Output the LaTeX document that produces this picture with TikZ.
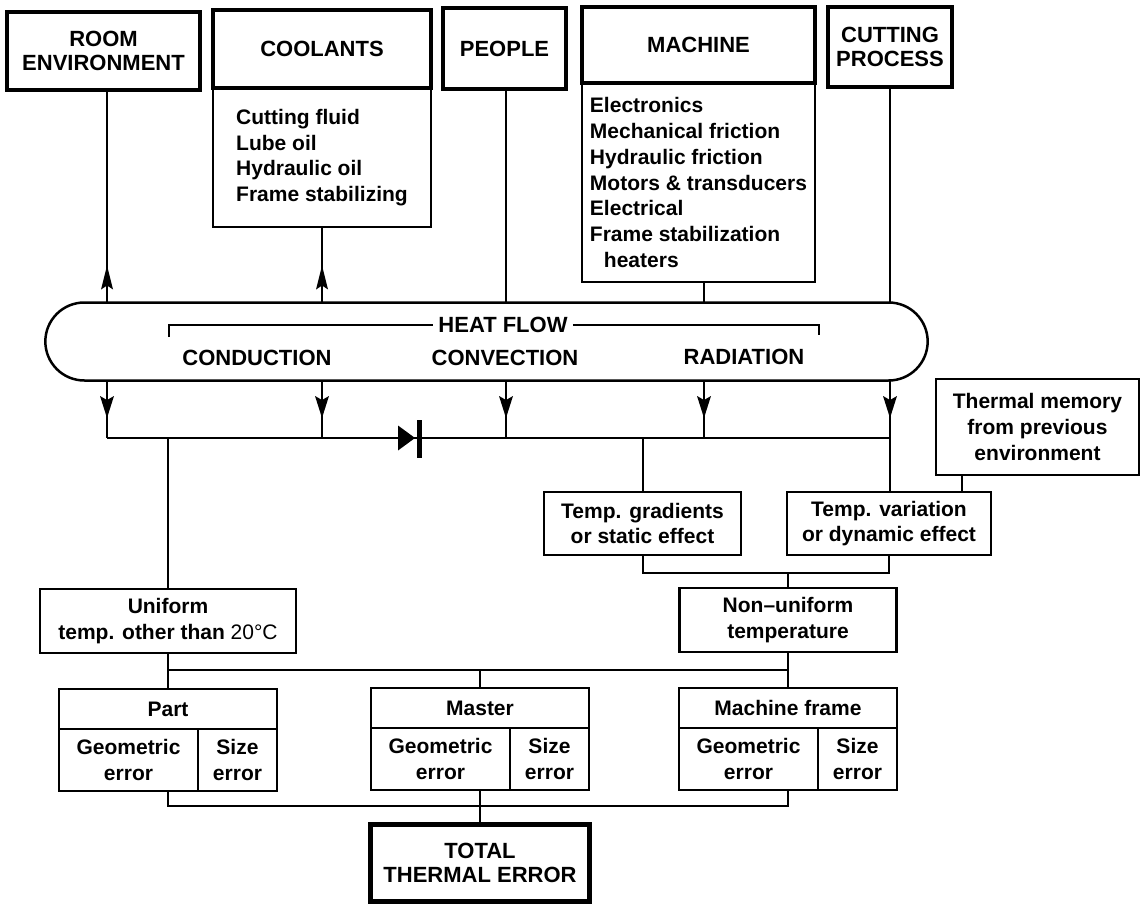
\documentclass[tikz,border=0pt]{standalone}
\usepackage{fontspec}
\setmainfont{Liberation Sans}
\usetikzlibrary{shapes.misc,decorations.markings}

% Part / Master / Machine frame box: title row over two error cells
\newcommand{\errorbox}[4]{%
  \node[thinbox, txt, minimum width=218pt, minimum height=40pt, anchor=north west] (#1) at (#2,#3) {#4};
  \node[thinbox, txt, minimum width=139pt, minimum height=62pt, anchor=north west] (#1g) at (#1.south west) {Geometric\\error};
  \node[thinbox, txt, minimum width=79pt, minimum height=62pt, anchor=north west] (#1s) at (#1g.north east) {Size\\error};
}

\begin{document}
\begin{tikzpicture}[x=1pt,y=-1pt,
  txt/.style={font=\bfseries\fontsize{21}{25.7}\selectfont, align=center},
  captxt/.style={font=\bfseries\fontsize{22}{24.5}\selectfont, align=center},
  thinbox/.style={draw, line width=2.2pt, outer sep=0pt, inner sep=0pt},
  thickbox/.style={draw, line width=4.5pt, outer sep=0pt, inner sep=0pt},
  conn/.style={line width=2pt},
  uparrow/.style={conn, postaction={decorate}, decoration={markings,
    mark=at position 37pt with {\fill (0pt,0pt) -- (-24pt,6pt) -- (-20pt,0pt) -- (-24pt,-6pt) -- cycle;}}},
  downarrow/.style={conn, postaction={decorate}, decoration={markings,
    mark=at position 37.5pt with {\fill (0pt,0pt) -- (-22pt,7pt) -- (-18pt,0pt) -- (-22pt,-7pt) -- cycle;}}},
]
\useasboundingbox (0,0) rectangle (1141,904);

% heat sources
\node[thickbox, captxt, minimum width=193pt, minimum height=78pt] (room) at (103.5,51) {ROOM\\ENVIRONMENT};
\node[thickbox, captxt, minimum width=218pt, minimum height=78pt] (cool) at (322,49) {COOLANTS};
\node[thinbox, txt, align=left, minimum width=218pt, minimum height=139pt, anchor=north] (coolbody) at (cool.south)
  {Cutting fluid\\Lube oil\\Hydraulic oil\\Frame stabilizing};
\node[thickbox, captxt, minimum width=123pt, minimum height=81pt] (people) at (504.5,48.5) {PEOPLE};
\node[thickbox, captxt, minimum width=233pt, minimum height=76pt] (mach) at (698.5,45) {MACHINE};
\node[thinbox, txt, align=left, minimum width=233pt, minimum height=199pt, anchor=north] (machbody) at (mach.south)
  {Electronics\\Mechanical friction\\Hydraulic friction\\Motors \& transducers\\Electrical\\Frame stabilization\\\hspace*{14pt}heaters};
\node[thickbox, captxt, minimum width=124pt, minimum height=80pt] (cut) at (890,47) {CUTTING\\PROCESS};

% heat flow capsule
\node[draw, line width=2.5pt, rounded rectangle, minimum width=889pt, minimum height=78pt, outer sep=0pt] (hf) at (486.5,341.5) {};
\node[captxt, inner xsep=5pt] (heat) at (503,325) {HEAT FLOW};
\node[captxt] (cond) at (257,358) {CONDUCTION};
\node[captxt] (conv) at (505,358) {CONVECTION};
\node[captxt] (rad) at (744,357) {RADIATION};
\coordinate (brL) at (169,337);
\coordinate (brR) at (819,335);
\draw[conn] (brL) |- (heat.west);
\draw[conn] (heat.east) -| (brR);

% connector columns
\coordinate (c1) at (107,0);
\coordinate (c2) at (322,0);
\coordinate (c3) at (506,0);
\coordinate (c4) at (704,0);
\coordinate (c5) at (890,0);
\coordinate (c6) at (962,0);
\coordinate (bus) at (0,438);
\coordinate (m1) at (0,573);
\coordinate (m2) at (0,670);
\coordinate (m3) at (0,806);

% sources into heat flow
\draw[uparrow] (hf.north -| c1) -- (room.south -| c1);
\draw[uparrow] (hf.north -| c2) -- (coolbody.south -| c2);
\draw[conn] (people.south -| c3) -- (hf.north -| c3);
\draw[conn] (machbody.south -| c4) -- (hf.north -| c4);
\draw[conn] (cut.south -| c5) -- (hf.north -| c5);

% effect boxes
\node[thinbox, txt, minimum width=197pt, minimum height=63pt] (tg) at (642.5,523.5) {Temp. gradients\\or static effect};
\node[thinbox, txt, minimum width=204pt, minimum height=63pt] (tv) at (889,523.5) {Temp. variation\\or dynamic effect};
\node[thinbox, txt, minimum width=203pt, minimum height=96pt] (tm) at (1037.5,427) {Thermal memory\\from previous\\environment};
\node[thinbox, txt, minimum width=256pt, minimum height=64pt] (uni) at (168,621) {Uniform\\temp. other than {\mdseries 20°C}};
\node[thinbox, txt, minimum width=217pt, minimum height=64pt] (nu) at (788,620) {Non–uniform\\temperature};

% heat flow outputs
\draw[downarrow] (hf.south -| c1) -- (bus -| c1);
\draw[downarrow] (hf.south -| c2) -- (bus -| c2);
\draw[downarrow] (hf.south -| c3) -- (bus -| c3);
\draw[downarrow] (hf.south -| c4) -- (bus -| c4);
\draw[downarrow] (hf.south -| c5) -- (tv.north -| c5);
\draw[conn] (bus -| c1) -- (bus -| c5);

% one-way (diode) symbol on the bus
\coordinate (dio) at (415,438);
\fill (dio) -- ++(-17,-12.5) -- ++(0,25) -- cycle;
\draw[line width=5pt] (dio) ++(4,-18) -- ++(0,38);

\draw[conn] (bus -| uni.north) -- (uni.north);
\draw[conn] (bus -| tg.north) -- (tg.north);
\draw[conn] (tm.south -| c6) -- (tv.north -| c6);
\draw[conn] (tg.south) -- (tg.south |- m1) -- (tv.south |- m1) -- (tv.south);
\draw[conn] (nu.north |- m1) -- (nu.north);

% error boxes
\errorbox{part}{59}{689}{Part}
\errorbox{master}{371}{688}{Master}
\errorbox{mf}{679}{688}{Machine frame}

\draw[conn] (uni.south) -- (uni.south |- part.north);
\draw[conn] (uni.south |- m2) -- (nu.south |- m2);
\draw[conn] (nu.south) -- (nu.south |- mf.north);
\draw[conn] (master.north) -- (master.north |- m2);

% total
\node[thickbox, captxt, minimum width=219pt, minimum height=77pt] (total) at (480,863) {TOTAL\\THERMAL ERROR};
\draw[conn] (part.south |- partg.south) -- (part.south |- m3) -- (mf.south |- m3) -- (mf.south |- mfg.south);
\draw[conn] (master.south |- masterg.south) -- (total.north);
\end{tikzpicture}
\end{document}
